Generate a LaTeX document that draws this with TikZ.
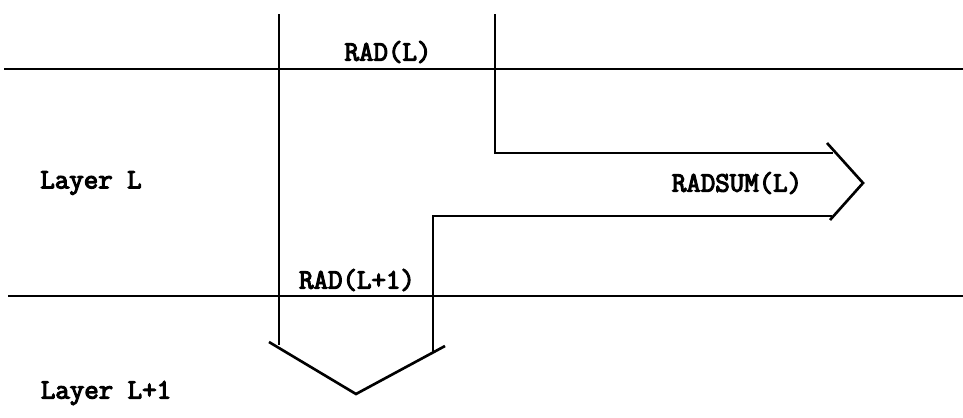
\documentclass[tikz,border=0pt]{standalone}
\usepackage{fontspec}
\newfontfamily\typew{Latin Modern Mono}[FakeBold=4]
\usetikzlibrary{positioning}
\tikzset{
	txt/.style = {
		inner sep=0pt,
		font=\typew\fontsize{16}{18}\selectfont
	},
	layer_line/.style = {
		line width=1.2pt
	},
	flow_line/.style = {
		line width=1.5pt,
		line join=miter
	},
}
\begin{document}
\begin{tikzpicture}[x=0.02cm, y=-0.02cm]
\useasboundingbox (0,0) rectangle (963,417);
% layer boundaries
\coordinate (top_w) at (4,69);
\coordinate (top_e) at (963,69);
\coordinate (bot_w) at (8,296);
\coordinate (bot_e) at (963,296);
\draw [layer_line] (top_w) -- (top_e);
\draw [layer_line] (bot_w) -- (bot_e);
% flows
\coordinate (in_l) at (279,14);
\coordinate (in_r) at (495,14);
\coordinate (corner_up) at (495,153);
\coordinate (corner_lo) at (433,216);
\coordinate (down_l) at (279,345);
\coordinate (down_r) at (433,352);
\coordinate (sum_up) at (833,153);
\coordinate (sum_lo) at (832,216);
\draw [flow_line] (in_l) -- (down_l);
\draw [flow_line] (in_r) -- (corner_up) -- (sum_up);
\draw [flow_line] (down_r) -- (corner_lo) -- (sum_lo);
% heads
\coordinate (head_d1) at (269,342);
\coordinate (head_d2) at (356,394);
\coordinate (head_d3) at (445,346);
\coordinate (head_r1) at (827,143);
\coordinate (head_r2) at (863,183);
\coordinate (head_r3) at (830,220);
\draw [flow_line] (head_d1) -- (head_d2) -- (head_d3);
\draw [flow_line] (head_r1) -- (head_r2) -- (head_r3);
% labels
\node [txt] (rad_l) at (388,52) {RAD(L)};
\node [txt] (rad_l1) at (357,280) {RAD(L+1)};
\node [txt] (radsum) at (737,183) {RADSUM(L)};
\node [txt] (layer_l) at (91,183) {Layer L};
\node [txt] (layer_l1) at (106,393) {Layer L+1};
\end{tikzpicture}
\end{document}
